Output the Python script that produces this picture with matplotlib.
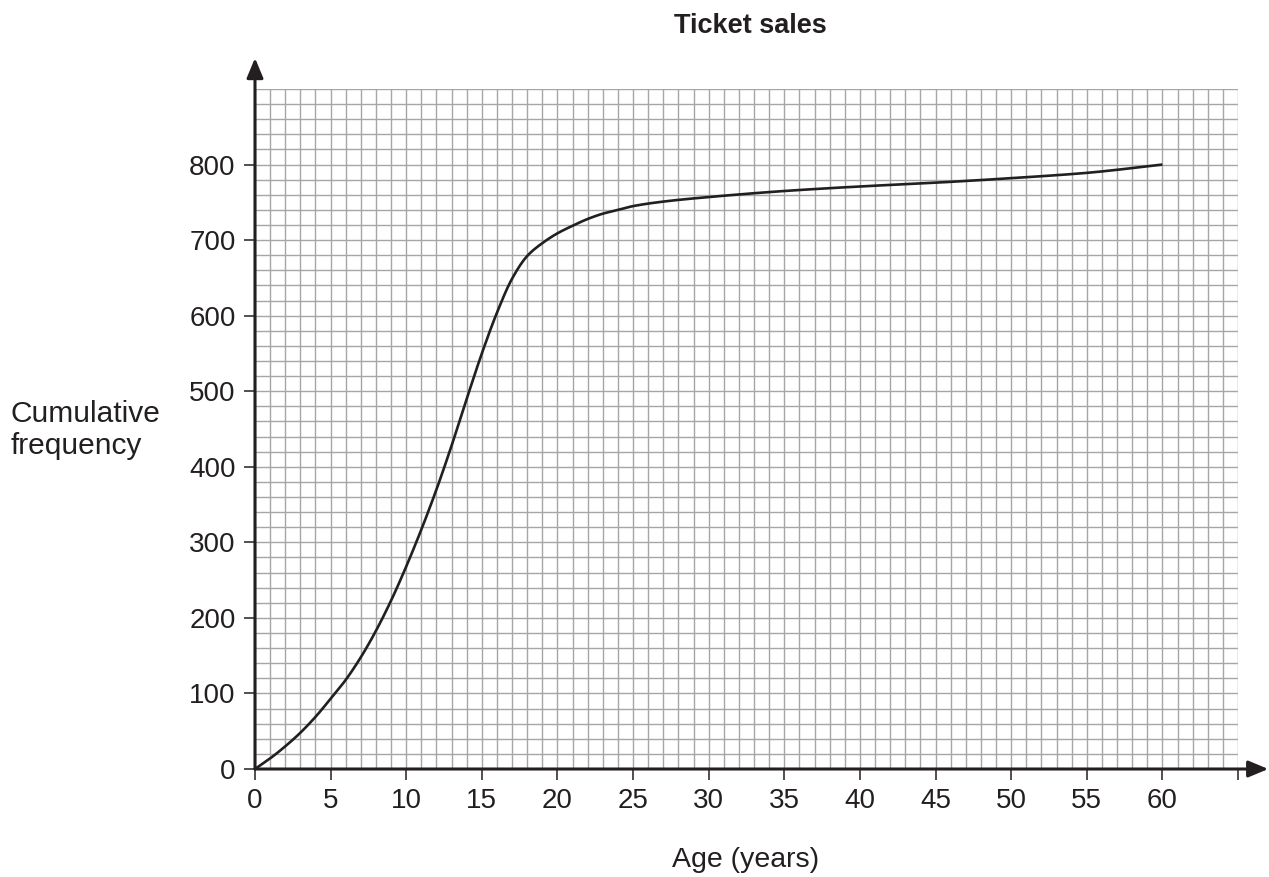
import numpy as np
import matplotlib
matplotlib.use("Agg")
import matplotlib.pyplot as plt

# ---- data ----
age = [0, 1, 2, 3, 4, 5, 6, 7, 8, 9, 10, 11, 12, 13, 14, 15, 16, 17, 18, 19, 20,
       21, 22, 23, 24, 25, 27, 30, 35, 40, 45, 50, 55, 60]
cum_freq = [0, 14, 30, 48, 69, 93, 118, 148, 183, 223, 268, 317, 370, 428, 490, 550, 604, 649, 679, 696, 709,
            719, 728, 735, 740, 745, 751, 757, 765, 771, 776, 782, 789, 800]
x_ticks = [0, 5, 10, 15, 20, 25, 30, 35, 40, 45, 50, 55, 60]
y_ticks = [0, 100, 200, 300, 400, 500, 600, 700, 800]
title = "Ticket sales"
x_label = "Age (years)"
y_label = "Cumulative\nfrequency"

plt.rcParams['font.family'] = ['Liberation Sans', 'DejaVu Sans']
INK = '#231f20'
GRID = '#a6a6a6'


def monotone_curve(x, y, n=20):
    x = np.asarray(x, float)
    y = np.asarray(y, float)
    h = np.diff(x)
    d = np.diff(y) / h
    m = np.zeros_like(y)
    m[0], m[-1] = d[0], d[-1]
    for i in range(1, len(x) - 1):
        if d[i - 1] * d[i] <= 0:
            m[i] = 0
        else:
            w1 = 2 * h[i] + h[i - 1]
            w2 = h[i] + 2 * h[i - 1]
            m[i] = (w1 + w2) / (w1 / d[i - 1] + w2 / d[i])
    xs, ys = [], []
    for i in range(len(x) - 1):
        t = np.linspace(0, 1, n, endpoint=False)
        h00 = 2 * t**3 - 3 * t**2 + 1
        h10 = t**3 - 2 * t**2 + t
        h01 = -2 * t**3 + 3 * t**2
        h11 = t**3 - t**2
        xs.append(x[i] + t * h[i])
        ys.append(h00 * y[i] + h10 * h[i] * m[i] + h01 * y[i + 1] + h11 * h[i] * m[i + 1])
    xs.append([x[-1]])
    ys.append([y[-1]])
    return np.concatenate(xs), np.concatenate(ys)


W, H = 1269, 877
fig = plt.figure(figsize=(W / 100, H / 100), dpi=100)
L, R, B, T = 255, 1238, 769, 89
ax = fig.add_axes([L / W, 1 - B / H, (R - L) / W, (B - T) / H])
ax.set_xlim(0, 65)
ax.set_ylim(0, 900)
for s in ax.spines.values():
    s.set_visible(False)

# grid
ax.vlines(np.arange(0, 66, 1), 0, 900, colors=GRID, lw=1.0, zorder=0)
ax.hlines(np.arange(0, 901, 20), 0, 65, colors=GRID, lw=1.0, zorder=0)

# curve
cx, cy = monotone_curve(age, cum_freq)
ax.plot(cx, cy, color=INK, lw=1.9, zorder=3, solid_capstyle='butt')

# axes with arrows
arrow = dict(arrowstyle='-|>,head_length=0.6,head_width=0.25', lw=2.2, color=INK,
             mutation_scale=20, shrinkA=0, shrinkB=0)
ax.annotate('', xy=(67, 0), xytext=(0, 0), arrowprops=arrow, annotation_clip=False, zorder=4)
ax.annotate('', xy=(0, 941), xytext=(0, 0), arrowprops=arrow, annotation_clip=False, zorder=4)

# ticks
ax.set_xticks(x_ticks + [65])
ax.set_xticklabels([str(v) for v in x_ticks] + [''])
ax.set_yticks(y_ticks)
ax.set_yticklabels([str(v) for v in y_ticks])
ax.tick_params(axis='both', direction='out', length=8, width=1.1, color=INK,
               labelcolor=INK, labelsize=20)
ax.tick_params(axis='x', pad=6)
ax.tick_params(axis='y', pad=6)

fig.text(827 / W, 1 - 33 / H, title, ha='right', va='baseline', fontsize=19.5,
         fontweight='bold', color=INK)
fig.text(746 / W, 1 - 867 / H, x_label, ha='center', va='baseline', fontsize=20.5, color=INK)
fig.text(11 / W, 1 - 430 / H, y_label, ha='left', va='center', fontsize=21.5, color=INK,
         linespacing=1.2)

fig.savefig('out.png', dpi=100)
